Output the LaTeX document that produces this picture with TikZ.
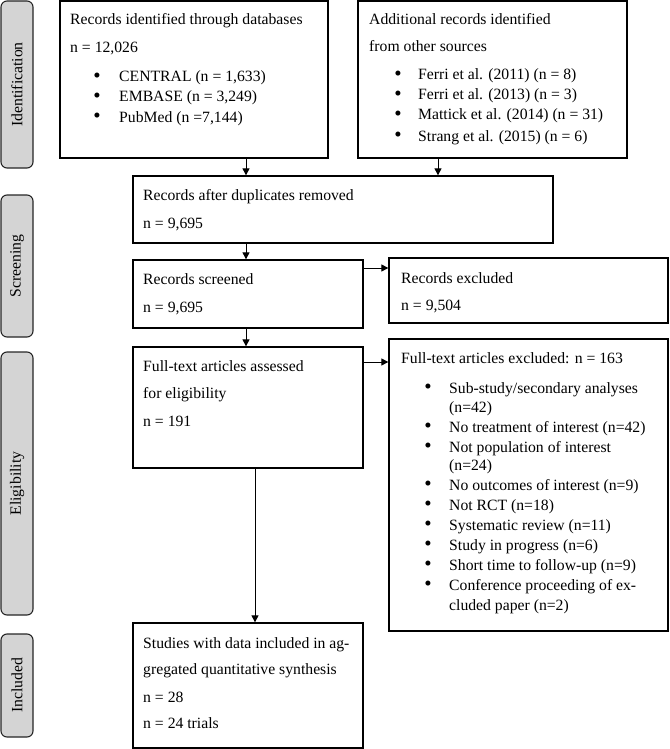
\documentclass[tikz,border=0pt]{standalone}
\usepackage{fontspec}
\setmainfont{Liberation Serif}
\usetikzlibrary{arrows.meta}
\begin{document}
\begin{tikzpicture}[x=1pt,y=-1pt,
  font=\fontsize{15.7}{18}\selectfont,
  box/.style={draw, line width=1.3pt, inner sep=0pt},
  side/.style={draw=black!85, fill=black!17, rounded corners=6pt, line width=1.1pt, inner sep=0pt, rotate=90},
  txt/.style={anchor=base west, inner sep=0pt},
  bul/.style={anchor=base, inner sep=0pt, font=\fontsize{21}{18}\selectfont, yshift=-0.5pt},
  arr/.style={-{Triangle[length=7pt,width=7pt]}, line width=1pt}]
\useasboundingbox (0,0) rectangle (669,749);

% side labels
\node[side, minimum width=167pt, minimum height=32pt] (s1) at (17,84.5) {Identification};
\node[side, minimum width=142pt, minimum height=32pt] (s2) at (17,266) {Screening};
\node[side, minimum width=263pt, minimum height=32pt] (s3) at (17,483.5) {Eligibility};
\node[side, minimum width=103pt, minimum height=32pt] (s4) at (17,685.5) {Included};

% boxes
\node[box, minimum width=268pt, minimum height=157pt] (b1) at (194,79.5) {};
\node[box, minimum width=269pt, minimum height=157pt] (b2) at (492.5,79.5) {};
\node[box, minimum width=420pt, minimum height=67pt] (b3) at (343,209.5) {};
\node[box, minimum width=230pt, minimum height=68pt] (b4) at (248,294) {};
\node[box, minimum width=279pt, minimum height=65pt] (b5) at (528.5,290.5) {};
\node[box, minimum width=230pt, minimum height=121pt] (b6) at (248,407.5) {};
\node[box, minimum width=279pt, minimum height=292pt] (b7) at (528.5,485) {};
\node[box, minimum width=230pt, minimum height=125pt] (b8) at (248,685.5) {};

% box 1 text
\node[txt] (t11) at (70,25) {Records identified through databases};
\node[txt] (t12) at (70,53) {n = 12,026};
\node[bul] (u11) at (97,82) {\textbullet};
\node[txt] (t13) at (119,82) {CENTRAL (n = 1,633)};
\node[bul] (u12) at (97,102) {\textbullet};
\node[txt] (t14) at (119,102) {EMBASE (n = 3,249)};
\node[bul] (u13) at (97,122) {\textbullet};
\node[txt] (t15) at (119,122) {PubMed (n =7,144)};

% box 2 text
\node[txt] (t21) at (369,25) {Additional records identified};
\node[txt] (t22) at (369,52) {from other sources};
\node[bul] (u21) at (398,80) {\textbullet};
\node[txt] (t23) at (418,80) {Ferri et al. (2011) (n = 8)};
\node[bul] (u22) at (398,100) {\textbullet};
\node[txt] (t24) at (418,100) {Ferri et al. (2013) (n = 3)};
\node[bul] (u23) at (398,120) {\textbullet};
\node[txt] (t25) at (418,120) {Mattick et al. (2014) (n = 31)};
\node[bul] (u24) at (398,141) {\textbullet};
\node[txt] (t26) at (418,141) {Strang et al. (2015) (n = 6)};

% box 3
\node[txt] (t31) at (143,200) {Records after duplicates removed};
\node[txt] (t32) at (143,228) {n = 9,695};

% box 4
\node[txt] (t41) at (143,284) {Records screened};
\node[txt] (t42) at (143,312) {n = 9,695};

% box 5
\node[txt] (t51) at (401,283) {Records excluded};
\node[txt] (t52) at (401,310) {n = 9,504};

% box 6
\node[txt] (t61) at (143,371) {Full-text articles assessed};
\node[txt] (t62) at (143,398) {for eligibility};
\node[txt] (t63) at (143,426) {n = 191};

% box 7
\node[txt] (t71) at (401,363) {Full-text articles excluded: n = 163};
\node[bul] (u71) at (428,393) {\textbullet};
\node[txt] (t72) at (449,393) {Sub-study/secondary analyses};
\node[txt] (t73) at (449,412) {(n=42)};
\node[bul] (u72) at (428,432) {\textbullet};
\node[txt] (t74) at (449,432) {No treatment of interest (n=42)};
\node[bul] (u73) at (428,452) {\textbullet};
\node[txt] (t75) at (449,452) {Not population of interest};
\node[txt] (t76) at (449,470) {(n=24)};
\node[bul] (u74) at (428,490) {\textbullet};
\node[txt] (t77) at (449,490) {No outcomes of interest (n=9)};
\node[bul] (u75) at (428,510) {\textbullet};
\node[txt] (t78) at (449,510) {Not RCT (n=18)};
\node[bul] (u76) at (428,530) {\textbullet};
\node[txt] (t79) at (449,530) {Systematic review (n=11)};
\node[bul] (u77) at (428,550) {\textbullet};
\node[txt] (t7a) at (449,550) {Study in progress (n=6)};
\node[bul] (u78) at (428,570) {\textbullet};
\node[txt] (t7b) at (449,570) {Short time to follow-up (n=9)};
\node[bul] (u79) at (428,590) {\textbullet};
\node[txt] (t7c) at (449,590) {Conference proceeding of ex-};
\node[txt] (t7d) at (449,610) {cluded paper (n=2)};

% box 8
\node[txt] (t81) at (143,648) {Studies with data included in ag-};
\node[txt] (t82) at (143,674) {gregated quantitative synthesis};
\node[txt] (t83) at (143,702) {n = 28};
\node[txt] (t84) at (143,728) {n = 24 trials};

% connectors
\coordinate (xa) at (246,0);
\coordinate (xb) at (438,0);
\coordinate (xc) at (255,0);
\coordinate (ya) at (0,268);
\coordinate (yb) at (0,362);
\draw[arr] (b1.south -| xa) -- (b3.north -| xa);
\draw[arr] (b2.south -| xb) -- (b3.north -| xb);
\draw[arr] (b3.south -| xa) -- (b4.north -| xa);
\draw[arr] (b4.east |- ya) -- (b5.west |- ya);
\draw[arr] (b4.south -| xa) -- (b6.north -| xa);
\draw[arr] (b6.east |- yb) -- (b7.west |- yb);
\draw[arr] (b6.south -| xc) -- (b8.north -| xc);
\end{tikzpicture}
\end{document}
